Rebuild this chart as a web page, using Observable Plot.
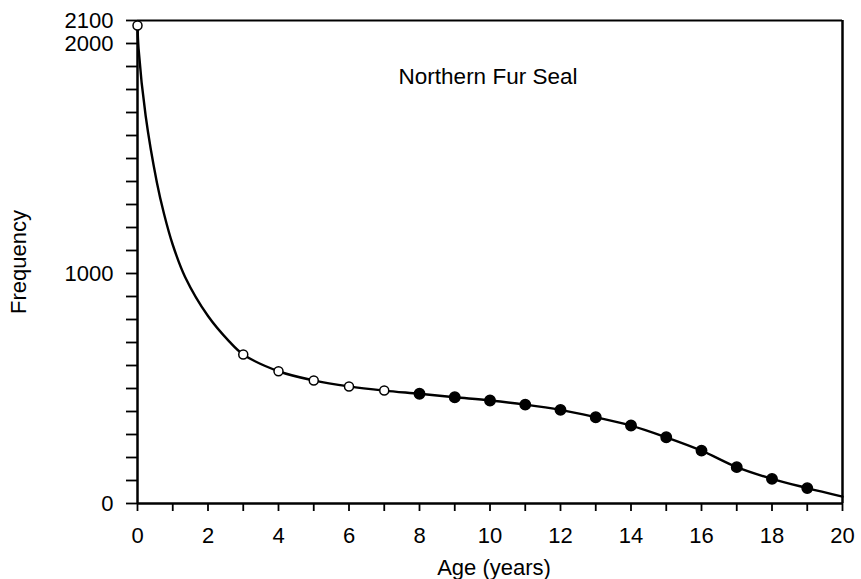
<!DOCTYPE html>
<html>
<head>
<meta charset="utf-8">
<script src="https://cdn.jsdelivr.net/npm/d3@7"></script>
<script src="https://cdn.jsdelivr.net/npm/@observablehq/plot@0.6"></script>
<style>
  body { margin: 0; background: #fff; }
  #chart { width: 861px; height: 579px; }
</style>
</head>
<body>
<div id="chart"></div>
<script>
// Sampled ages (marked points) and their frequencies
const ages = [0, 3, 4, 5, 6, 7, 8, 9, 10, 11, 12, 13, 14, 15, 16, 17, 18, 19];
const freq = [2078, 648, 575, 535, 509, 491, 477, 462, 448, 430, 407, 375, 339, 288, 230, 158, 107, 67];
const markerType = ["open", "open", "open", "open", "open", "open",
  "filled", "filled", "filled", "filled", "filled", "filled", "filled", "filled", "filled", "filled", "filled", "filled"];

// Additional points (unmarked)
const curveAges = [0.03, 0.23, 0.55, 0.75, 1.0, 1.35, 2.0, 2.6, 20];
const curveFreq = [1978, 1687, 1396, 1261, 1125, 985, 815, 705, 30];

// Axis ticks and labels
const xTicks = d3.range(0, 21, 1);
const xLabels = [0, 2, 4, 6, 8, 10, 12, 14, 16, 18, 20];
const yTicks = d3.range(0, 2101, 100);
const yLabels = [0, 1000, 2000, 2100];

const title = "Northern Fur Seal";
const xTitle = "Age (years)";
const yTitle = "Frequency";

const points = ages.map((a, i) => ({age: a, freq: freq[i], type: markerType[i]}));
const linePts = points.map(d => ({age: d.age, freq: d.freq}))
  .concat(curveAges.map((a, i) => ({age: a, freq: curveFreq[i]})))
  .sort((a, b) => a.age - b.age);

const chart = Plot.plot({
  width: 861,
  height: 579,
  marginLeft: 137,
  marginRight: 19,
  marginTop: 20,
  marginBottom: 76,
  style: {fontFamily: "'Liberation Sans', Arial, Helvetica, sans-serif", fontSize: "22px", color: "#000", background: "#fff"},
  x: {domain: [0, 20]},
  y: {domain: [0, 2100]},
  marks: [
    Plot.axisX({ticks: xTicks, tickSize: 8, tickPadding: 16, strokeWidth: 1.8,
      tickFormat: d => xLabels.includes(d) ? String(d) : "", label: null, fontSize: 22}),
    Plot.axisY({ticks: yTicks, tickSize: 11, tickPadding: 13, strokeWidth: 1.8,
      tickFormat: d => yLabels.includes(d) ? String(d) : "", label: null, fontSize: 22}),
    Plot.ruleY([0], {strokeWidth: 2.5}),
    Plot.ruleX([0], {strokeWidth: 2.5}),
    Plot.ruleY([2100], {strokeWidth: 2.2}),
    Plot.ruleX([20], {strokeWidth: 2.5}),
    Plot.line(linePts, {x: "age", y: "freq", curve: "catmull-rom", stroke: "#000", strokeWidth: 2.4}),
    Plot.dot(points.filter(d => d.type === "open"), {x: "age", y: "freq", r: 4.5, fill: "#fff", stroke: "#000", strokeWidth: 1.5}),
    Plot.dot(points.filter(d => d.type === "filled"), {x: "age", y: "freq", r: 5.2, fill: "#000", stroke: "#000"}),
    Plot.text([title], {frameAnchor: "top", lineAnchor: "middle", dy: 56, dx: -2, fontSize: 22.5, fill: "#000"}),
    Plot.text([xTitle], {frameAnchor: "bottom", lineAnchor: "middle", dy: 64, dx: 4, fontSize: 22, fill: "#000"}),
    Plot.text([yTitle], {frameAnchor: "left", textAnchor: "middle", lineAnchor: "middle", dx: -119, rotate: -90, fontSize: 22, fill: "#000"})
  ]
});
document.getElementById("chart").appendChild(chart);
</script>
</body>
</html>
